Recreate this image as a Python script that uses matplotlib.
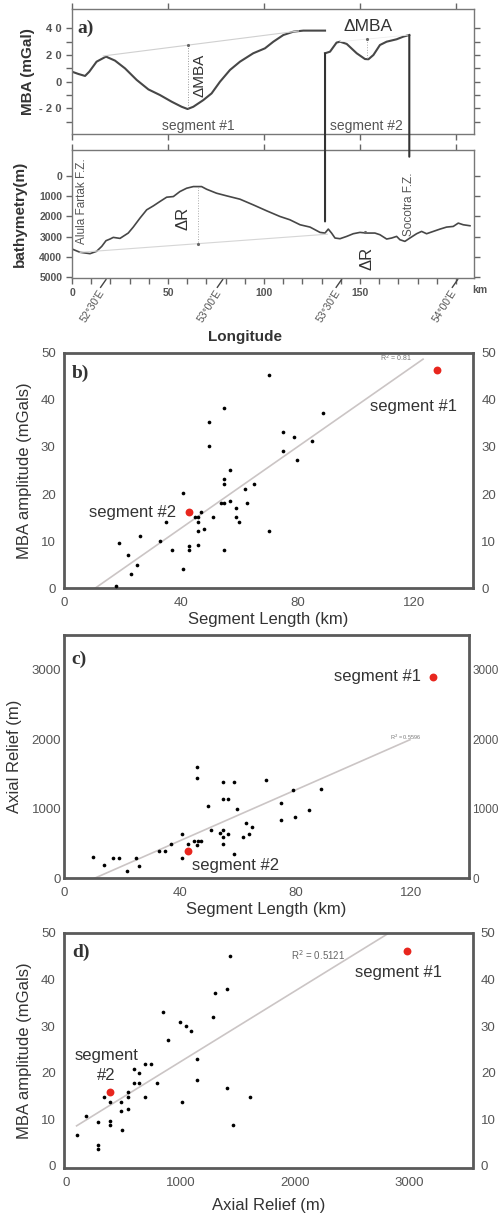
import matplotlib
matplotlib.use('Agg')
import matplotlib.pyplot as plt
import matplotlib.transforms as mtransforms
from matplotlib.patches import ConnectionPatch
import numpy as np

plt.rcParams['font.family'] = ['Liberation Sans', 'DejaVu Sans']

# ------------------------------------------------ panel a : MBA profile along axis (km, mGal)
seg1_km = [0, 3.3, 6.8, 9.0, 12.8, 17.7, 22.4, 27.6, 33.7, 39.8, 45.8, 51.9, 57.1, 60.2, 63.2,
           68.4, 72.7, 77.1, 82.3, 87.5, 94.4, 100.5, 104.9, 110.1, 115.3, 120.5, 125.7, 131.8]
seg1_mba = [7.5, 5.8, 4.3, 7.5, 15.0, 18.8, 15.8, 10.0, 1.3, -5.8, -10.0, -15.0, -18.8, -20.5, -18.8,
            -13.8, -8.8, 0.0, 8.8, 15.0, 21.3, 25.0, 30.0, 35.0, 37.5, 38.3, 38.3, 38.3]
seg2_km = [131.8, 134.4, 137.8, 139.6, 143.1, 148.3, 152.6, 154.4, 157.0, 160.4, 163.9, 169.1, 172.6, 175.7]
seg2_mba = [21.3, 22.5, 29.3, 30.0, 28.3, 21.3, 17.0, 16.8, 20.0, 27.5, 30.0, 31.8, 33.8, 35.0]

# reference lines used to measure the MBA amplitude
mba_ref1_km = [16.3, 118.0]
mba_ref1 = [19.3, 38.0]
dmba1_km = 60.2
dmba1 = [27.4, -20.5]
mba_ref2_km = [139.6, 175.7]
mba_ref2 = [30.0, 35.0]
dmba2_km = 153.5
dmba2 = [31.9, 16.8]

# ------------------------------------------------ bathymetry profile (km, m)
bathy_km = [0, 4.2, 9.4, 12.8, 15.5, 17.7, 19.8, 21.5, 25.0, 29.3, 31.9, 35.4, 38.9, 42.4, 45.8, 49.3,
            52.8, 56.2, 59.7, 63.2, 67.5, 70.1, 75.3, 80.6, 87.5, 94.4, 101.4, 108.3, 113.5, 118.8,
            124.0, 129.2, 131.8, 133.5, 135.2, 137.0, 139.6, 143.1, 146.5, 150.0, 153.5, 157.8, 160.4,
            163.9, 166.5, 169.1, 170.8, 173.4, 176.0, 179.5, 182.1, 184.7, 188.2, 191.7, 195.1, 198.6,
            201.2, 203.8, 207.3]
bathy_depth = [3608, 3771, 3837, 3722, 3478, 3200, 3118, 3037, 3086, 2824, 2531, 2090, 1682, 1486, 1273,
               1061, 1029, 784, 620, 539, 539, 669, 865, 996, 1159, 1437, 1731, 2008, 2171, 2416,
               2531, 2792, 2824, 2629, 2824, 3069, 3102, 2988, 2857, 2792, 2824, 2824, 2906,
               3118, 3069, 2988, 3151, 3233, 3069, 2857, 2743, 2857, 2743, 2629, 2531, 2498,
               2335, 2416, 2465]
bathy_ref_km = [4.2, 133.0]
bathy_ref = [3770, 2880]
dr1_km = 65.5
dr1 = [539, 3347]

lon_km = [16.3, 77.1, 139.0, 199.5]
lon_labels = ["52°30'E", "53°00'E", "53°30'E", "54°00'E"]

# connectors between the two profiles (km, mGal top, depth bottom)
conn_km = [131.8, 175.7]
conn_mba = [21.3, 35.0]
conn_depth = [2253, -930]

# ------------------------------------------------ panel b : segment length vs MBA amplitude
b_len = [17.8, 18.8, 21.9, 23.0, 24.9, 26.0, 32.9, 34.9, 36.9, 40.9, 40.9, 42.9, 42.9, 44.9, 45.7,
         46.0, 46.0, 46.0, 46.9, 48.0, 49.8, 49.8, 50.9, 53.8, 54.8, 54.8, 54.8, 54.8, 54.8, 56.9,
         56.9, 58.9, 58.9, 59.8, 62.0, 62.8, 64.9, 70.0, 70.0, 74.9, 74.9, 78.8, 79.9, 84.8, 88.8]
b_mba = [0.5, 9.7, 7.0, 3.0, 5.0, 11.0, 10.1, 14.1, 8.1, 20.2, 4.0, 9.0, 8.1, 15.1, 15.1,
         14.1, 12.1, 9.1, 16.1, 12.5, 35.2, 30.2, 15.1, 18.1, 18.1, 38.2, 23.1, 22.1, 8.1, 25.1,
         18.6, 17.1, 15.1, 14.1, 21.1, 18.1, 22.1, 45.3, 12.1, 33.2, 29.2, 32.2, 27.2, 31.2, 37.2]
b_seg_len = [127.7, 42.9]
b_seg_mba = [46.3, 16.1]
b_fit = (0.433, -4.59, 10.6, 122.9)   # slope, intercept, x from, x to

# ------------------------------------------------ panel c : segment length vs axial relief
c_len = [9.9, 13.9, 17.0, 18.9, 21.9, 24.9, 26.0, 32.9, 34.9, 36.8, 40.8, 40.8, 42.9, 45.0, 45.8,
         46.4, 47.4, 45.8, 45.8, 49.8, 50.8, 53.9, 54.8, 54.8, 54.8, 54.8, 54.8, 56.8, 56.8, 58.8,
         58.8, 59.9, 61.9, 62.9, 63.8, 64.8, 69.8, 74.8, 74.8, 79.0, 79.8, 84.7, 88.8]
c_relief = [312, 192, 293, 293, 106, 293, 178, 394, 394, 490, 288, 634, 490, 538, 480,
            538, 538, 1594, 1440, 1042, 696, 648, 696, 600, 494, 1387, 1142, 1142, 638, 1387,
            346, 1003, 590, 792, 638, 734, 1416, 1080, 840, 1272, 888, 989, 1287]
c_seg_len = [127.3, 42.9]
c_seg_relief = [2890, 394]
c_fit = (18.28, -191.9, 10.5, 119.5)

# ------------------------------------------------ panel d : axial relief vs MBA amplitude
d_relief = [90, 169, 280, 280, 280, 330, 385, 385, 385, 479, 479, 487, 537, 537, 537, 589, 589, 639,
            639, 689, 689, 744, 791, 843, 893, 995, 1007, 1045, 1088, 1144, 1144, 1278, 1301, 1401,
            1401, 1427, 1453, 1602]
d_mba = [6.6, 10.7, 9.4, 4.6, 3.6, 14.8, 13.8, 9.7, 8.7, 13.8, 11.8, 7.7, 15.8, 14.8, 12.2, 20.8, 17.8,
         19.9, 17.8, 21.9, 14.8, 21.9, 17.8, 33.0, 26.9, 30.9, 13.8, 30.0, 29.0, 22.9, 18.4, 32.0, 37.1,
         16.8, 38.0, 45.1, 8.7, 14.8]
d_seg_relief = [2976, 385]
d_seg_mba = [46.1, 15.8]
d_fit = (0.01514, 7.24, 90, 2825)

# ------------------------------------------------ style
GRAY_TXT = '#555555'
LINE = '#474747'
REG = '#cbc5c5'
RED = '#e8261e'

fig = plt.figure(figsize=(5.0, 12.17), dpi=100)

# ================================================= panel a (MBA)
axa = fig.add_axes([0.144, 0.8896, 0.804, 0.103])
axa.plot(seg1_km, seg1_mba, color=LINE, lw=1.5)
axa.plot(seg2_km, seg2_mba, color=LINE, lw=1.5)
axa.plot(mba_ref1_km, mba_ref1, color='#d0d0d0', lw=0.8)
axa.plot([dmba1_km, dmba1_km], dmba1, color='#999999', lw=0.7, ls=':')
axa.plot([dmba1_km], [dmba1[0]], marker='.', ms=2.5, color='#666666')
axa.plot(mba_ref2_km, mba_ref2, color='#eeeeee', lw=0.6)
axa.plot([dmba2_km, dmba2_km], dmba2, color='#aaaaaa', lw=0.7, ls=':')
axa.plot([dmba2_km], [dmba2[0]], marker='.', ms=2.5, color='#666666')
axa.set_xlim(0, 209.4)
axa.set_ylim(-39.5, 54.5)
axa.set_yticks([40, 20, 0, -20])
axa.set_yticklabels(['4 0', '2 0', '0', '- 2 0'], fontsize=8, fontweight='bold', color=GRAY_TXT)
axa.set_yticks([30, 10, -10, -30], minor=True)
axa.set_xticks([0, 50, 100, 150, 200])
axa.tick_params(which='both', direction='out', length=4, width=1, color='#666666',
                top=True, right=True, labelbottom=False)
for s in axa.spines.values():
    s.set_color('#777777')
    s.set_linewidth(1)
axa.set_ylabel('MBA (mGal)', fontsize=11, fontweight='bold', color='#333333')
axa.yaxis.set_label_coords(-0.092, 0.5)
axa.text(2.6, 40, 'a)', family='Liberation Serif', fontweight='bold', fontsize=14,
         color='#333333', va='center', ha='left')
axa.text(66.2, 5, 'ΔMBA', rotation=90, fontsize=11, color='#333333', ha='center', va='center')
axa.text(154, 41.5, 'ΔMBA', fontsize=12.5, color='#333333', ha='center', va='center')
axa.text(65.6, -33.3, 'segment #1', fontsize=10, color=GRAY_TXT, ha='center', va='center')
axa.text(153.5, -33.3, 'segment #2', fontsize=10, color=GRAY_TXT, ha='center', va='center')

# ================================================= bathymetry
axr = fig.add_axes([0.144, 0.7713, 0.804, 0.1054])
axr.plot(bathy_km, bathy_depth, color=LINE, lw=1.2)
axr.plot(bathy_ref_km, bathy_ref, color='#d6d6d6', lw=0.8)
axr.plot([dr1_km, dr1_km], dr1, color='#aaaaaa', lw=0.7, ls=':')
axr.plot([dr1_km], [dr1[1]], marker='.', ms=2.5, color='#666666')
axr.plot([152.6], [2795], marker='.', ms=2.5, color='#666666')
axr.set_xlim(0, 209.4)
axr.set_ylim(5050, -1257)
axr.set_yticks([0, 1000, 2000, 3000, 4000, 5000])
axr.set_xticks([0, 50, 100, 150, 200])
axr.set_xticklabels(['0', '50', '100', '150', ''])
axr.set_xticks(np.arange(0, 210, 10), minor=True)
axr.tick_params(which='both', direction='out', length=4, width=1, color='#666666',
                top=True, right=True, labelsize=7.5, labelcolor=GRAY_TXT, pad=3)
axr.tick_params(which='minor', top=False)
for lab in axr.get_xticklabels() + axr.get_yticklabels():
    lab.set_fontweight('bold')
for s in axr.spines.values():
    s.set_color('#777777')
    s.set_linewidth(1)
axr.set_ylabel('bathymetry(m)', fontsize=11, fontweight='bold', color='#333333')
axr.yaxis.set_label_coords(-0.112, 0.5)
axr.text(1.015, -0.09, 'km', transform=axr.transAxes, fontsize=7.5, fontweight='bold',
         color=GRAY_TXT, ha='center', va='center')
axr.text(0.43, -0.46, 'Longitude', transform=axr.transAxes, fontsize=11, fontweight='bold',
         color='#333333', ha='center', va='center')
axr.text(57.8, 2090, 'ΔR', rotation=90, fontsize=12, color='#333333', ha='center', va='center')
axr.text(153.5, 4049, 'ΔR', rotation=90, fontsize=12, color='#333333', ha='center', va='center')
axr.text(5.0, 1273, 'Alula Fartak F.Z.', rotation=90, fontsize=8.5, color=GRAY_TXT,
         ha='center', va='center')
axr.text(175.4, 1400, 'Socotra F.Z.', rotation=90, fontsize=8.5, color=GRAY_TXT,
         ha='center', va='center')

trans = mtransforms.blended_transform_factory(axr.transData, axr.transAxes)
for km, lab in zip(lon_km, lon_labels):
    axr.plot([km + 1.4, km - 1.4], [-0.01, -0.07], transform=trans, color='#444444', lw=1,
             clip_on=False)
    axr.text(km - 0.4, -0.10, lab, transform=trans, rotation=58, rotation_mode='anchor',
             ha='right', va='center', fontsize=7.5, color=GRAY_TXT)

for km, m, d in zip(conn_km, conn_mba, conn_depth):
    con = ConnectionPatch(xyA=(km, m), coordsA=axa.transData, xyB=(km, d), coordsB=axr.transData,
                          color='#333333', lw=1.5)
    fig.add_artist(con)


# ================================================= scatter panels
def scatter_panel(rect, x, y, sx, sy, fit, xlim, ylim, xticks, yticks, xlabel, ylabel,
                  letter, letter_y, xlab_y, ylab_x, right_size=9.5):
    ax = fig.add_axes(rect)
    xf = np.array([fit[2], fit[3]])
    ax.plot(xf, fit[0] * xf + fit[1], color=REG, lw=1.2, zorder=1)
    ax.scatter(x, y, s=7, color='black', zorder=3, linewidths=0)
    ax.scatter(sx, sy, s=32, color=RED, zorder=4, linewidths=0)
    ax.set_xlim(*xlim)
    ax.set_ylim(*ylim)
    ax.set_xticks(xticks)
    ax.set_yticks(yticks)
    ax.tick_params(length=0, labelsize=9.5, labelcolor=GRAY_TXT, pad=6, right=True,
                   labelright=True)
    ax.tick_params(axis='y', which='both', labelright=True)
    for lab in ax.yaxis.get_ticklabels(which='both'):
        pass
    for t in ax.yaxis.get_major_ticks():
        t.label2.set_fontsize(right_size)
        if right_size < 9.5:
            t.set_pad(2)
    for s in ax.spines.values():
        s.set_color('#5a5a5a')
        s.set_linewidth(2)
    ax.set_xlabel(xlabel, fontsize=12, color='#333333')
    ax.set_ylabel(ylabel, fontsize=12, color='#333333')
    ax.xaxis.set_label_coords(0.5, xlab_y)
    ax.yaxis.set_label_coords(ylab_x, 0.5)
    ax.text(0.019, letter_y, letter, transform=ax.transAxes, family='Liberation Serif',
            fontweight='bold', fontsize=14, color='#333333', va='center', ha='left')
    return ax


axb = scatter_panel([0.128, 0.5166, 0.818, 0.1936], b_len, b_mba, b_seg_len, b_seg_mba, b_fit,
                    (0, 140), (0, 50), [0, 40, 80, 120], [0, 10, 20, 30, 40, 50],
                    'Segment Length (km)', 'MBA amplitude (mGals)', 'b)', 0.913, -0.10, -0.078)
axb.text(113.7, 48.9, 'R$^2$ = 0.81', fontsize=5, color='#777777', ha='center', va='center')
axb.text(119.7, 38.5, 'segment #1', fontsize=12, color='#333333', ha='center', va='center')
axb.text(38.4, 16.1, 'segment #2', fontsize=12, color='#333333', ha='right', va='center')

axc = scatter_panel([0.128, 0.2783, 0.8106, 0.2], c_len, c_relief, c_seg_len, c_seg_relief, c_fit,
                    (0, 140), (0, 3500), [0, 40, 80, 120], [0, 1000, 2000, 3000],
                    'Segment Length (km)', 'Axial Relief (m)', 'c)', 0.9, -0.099, -0.104,
                    right_size=8.5)
axc.text(118, 2030, 'R$^2$ = 0.5596', fontsize=4, color='#777777', ha='center', va='center')
axc.text(123.2, 2895, 'segment #1', fontsize=12, color='#333333', ha='right', va='center')
axc.text(59.4, 182, 'segment #2', fontsize=12, color='#333333', ha='center', va='center')

axd = scatter_panel([0.128, 0.04, 0.817, 0.1936], d_relief, d_mba, d_seg_relief, d_seg_mba, d_fit,
                    (-20, 3550), (-0.5, 50), [0, 1000, 2000, 3000], [0, 10, 20, 30, 40, 50],
                    'Axial Relief (m)', 'MBA amplitude (mGals)', 'd)', 0.915, -0.128, -0.078)
axd.text(2198, 45.3, 'R$^2$ = 0.5121', fontsize=7, color='#666666', ha='center', va='center')
axd.text(2900, 41.5, 'segment #1', fontsize=12, color='#333333', ha='center', va='center')
axd.text(353, 23.7, 'segment', fontsize=12, color='#333333', ha='center', va='center')
axd.text(353, 19.4, '#2', fontsize=12, color='#333333', ha='center', va='center')

fig.savefig('out.png', dpi=100, facecolor='white')
